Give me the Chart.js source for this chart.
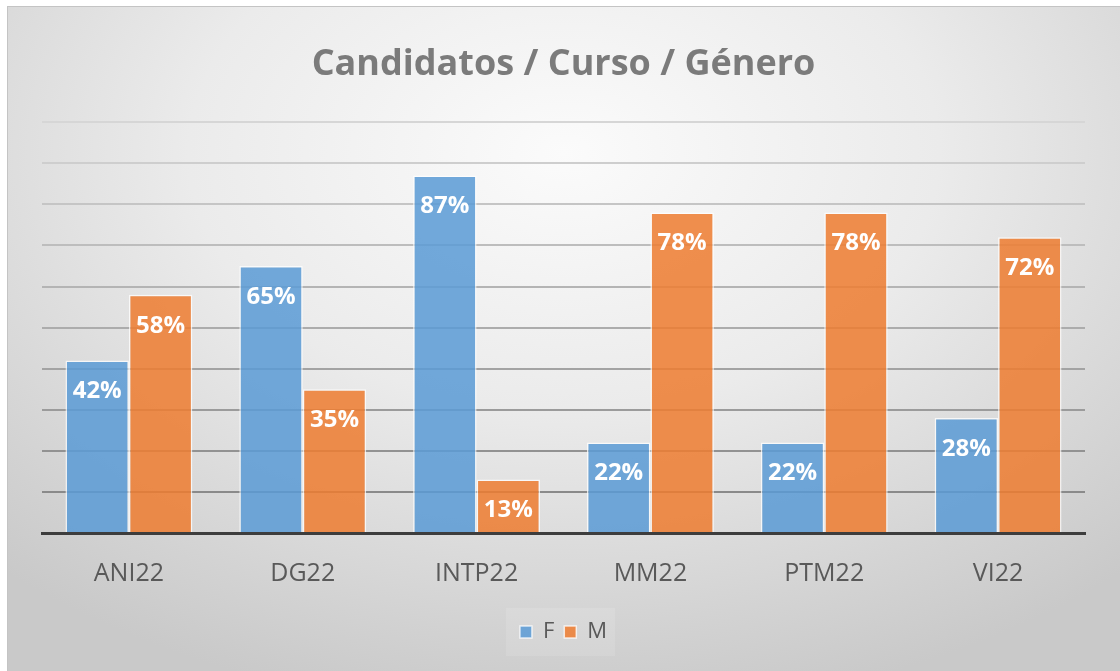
<!DOCTYPE html>
<html>
<head>
<meta charset="utf-8">
<script src="https://cdn.jsdelivr.net/npm/chart.js@4.4.0/dist/chart.umd.min.js"></script>
<style>
  html, body { margin: 0; padding: 0; background: #ffffff; }
  #wrap {
    position: absolute; left: 7px; top: 6px;
    width: 1112px; height: 664px;
    border-top: 1px solid #c4c4c4; border-left: 1px solid #c4c4c4;
    background: radial-gradient(ellipse 75% 85% at 50% 22%, #fbfbfb 0%, #ebebeb 45%, #d2d2d2 85%, #c9c9c9 100%);
  }
</style>
</head>
<body>
<div id="wrap"><canvas id="chart" width="1112" height="664"></canvas></div>
<script>
const categories = ['ANI22', 'DG22', 'INTP22', 'MM22', 'PTM22', 'VI22'];
const femaleValues = [0.42, 0.65, 0.87, 0.22, 0.22, 0.28];
const maleValues = [0.58, 0.35, 0.13, 0.78, 0.78, 0.72];
const seriesNames = ['F', 'M'];

const FONT = "'Open Sans', sans-serif";

// white percentage labels inside the top of each bar
const barLabels = {
    id: 'barLabels',
    afterDatasetsDraw(chart) {
        const ctx = chart.ctx;
        ctx.save();
        ctx.fillStyle = '#ffffff';
        ctx.font = 'bold 24px ' + FONT;
        ctx.textAlign = 'center';
        ctx.textBaseline = 'middle';
        chart.data.datasets.forEach((ds, i) => {
            chart.getDatasetMeta(i).data.forEach((bar, j) => {
                ctx.fillText(Math.round(ds.data[j] * 100) + '%', bar.x, bar.y + 31);
            });
        });
        ctx.restore();
    }
};

// faint lighter box behind the legend
const legendBox = {
    id: 'legendBox',
    beforeDraw(chart) {
        const boxes = chart.legend.legendHitBoxes;
        if (!boxes || !boxes.length) return;
        const left = Math.min(...boxes.map(b => b.left)) - 14;
        const right = Math.max(...boxes.map(b => b.left + b.width)) + 8;
        const top = boxes[0].top - 13;
        const bottom = boxes[0].top + boxes[0].height + 13;
        const ctx = chart.ctx;
        ctx.save();
        ctx.fillStyle = 'rgba(255,255,255,0.12)';
        ctx.fillRect(left, top, right - left, bottom - top);
        ctx.restore();
    }
};

new Chart(document.getElementById('chart'), {
    type: 'bar',
    data: {
        labels: categories,
        datasets: [
            {
                label: seriesNames[0],
                data: femaleValues,
                backgroundColor: 'rgba(91,155,213,0.86)',
                borderColor: 'rgba(255,255,255,0.75)',
                borderWidth: 1.5
            },
            {
                label: seriesNames[1],
                data: maleValues,
                backgroundColor: 'rgba(237,125,49,0.86)',
                borderColor: 'rgba(255,255,255,0.75)',
                borderWidth: 1.5
            }
        ]
    },
    options: {
        responsive: false,
        animation: false,
        layout: { padding: { left: 34, right: 35, top: 0, bottom: 18 } },
        datasets: {
            bar: { categoryPercentage: 0.73, barPercentage: 1.0 }
        },
        scales: {
            x: {
                grid: { display: false, drawTicks: false },
                border: { display: true, color: '#3d3d3d', width: 3 },
                ticks: { color: '#595959', font: { family: FONT, size: 25 }, padding: 26 },
                afterFit(scale) { scale.height -= 4; }
            },
            y: {
                min: 0,
                max: 1,
                ticks: { stepSize: 0.1, display: false },
                border: { display: false },
                grid: {
                    drawTicks: false,
                    lineWidth: 2,
                    color(ctx) {
                        if (ctx.index === 0) return 'rgba(0,0,0,0)';
                        const t = (ctx.index - 1) / 9;
                        const v = Math.round(0x8a + (0xd6 - 0x8a) * t);
                        return `rgb(${v},${v},${v})`;
                    }
                },
                afterFit(scale) { scale.width = 0; }
            }
        },
        plugins: {
            title: {
                display: true,
                text: 'Candidatos / Curso / Género',
                color: '#7b7b7b',
                font: { family: FONT, size: 36, weight: 'bold' },
                padding: { top: 36, bottom: 36 }
            },
            legend: {
                position: 'bottom',
                labels: {
                    color: '#595959',
                    font: { family: FONT, size: 22 },
                    boxWidth: 12,
                    boxHeight: 12,
                    padding: 10
                }
            },
            tooltip: { enabled: false }
        }
    },
    plugins: [legendBox, barLabels]
});
</script>
</body>
</html>
